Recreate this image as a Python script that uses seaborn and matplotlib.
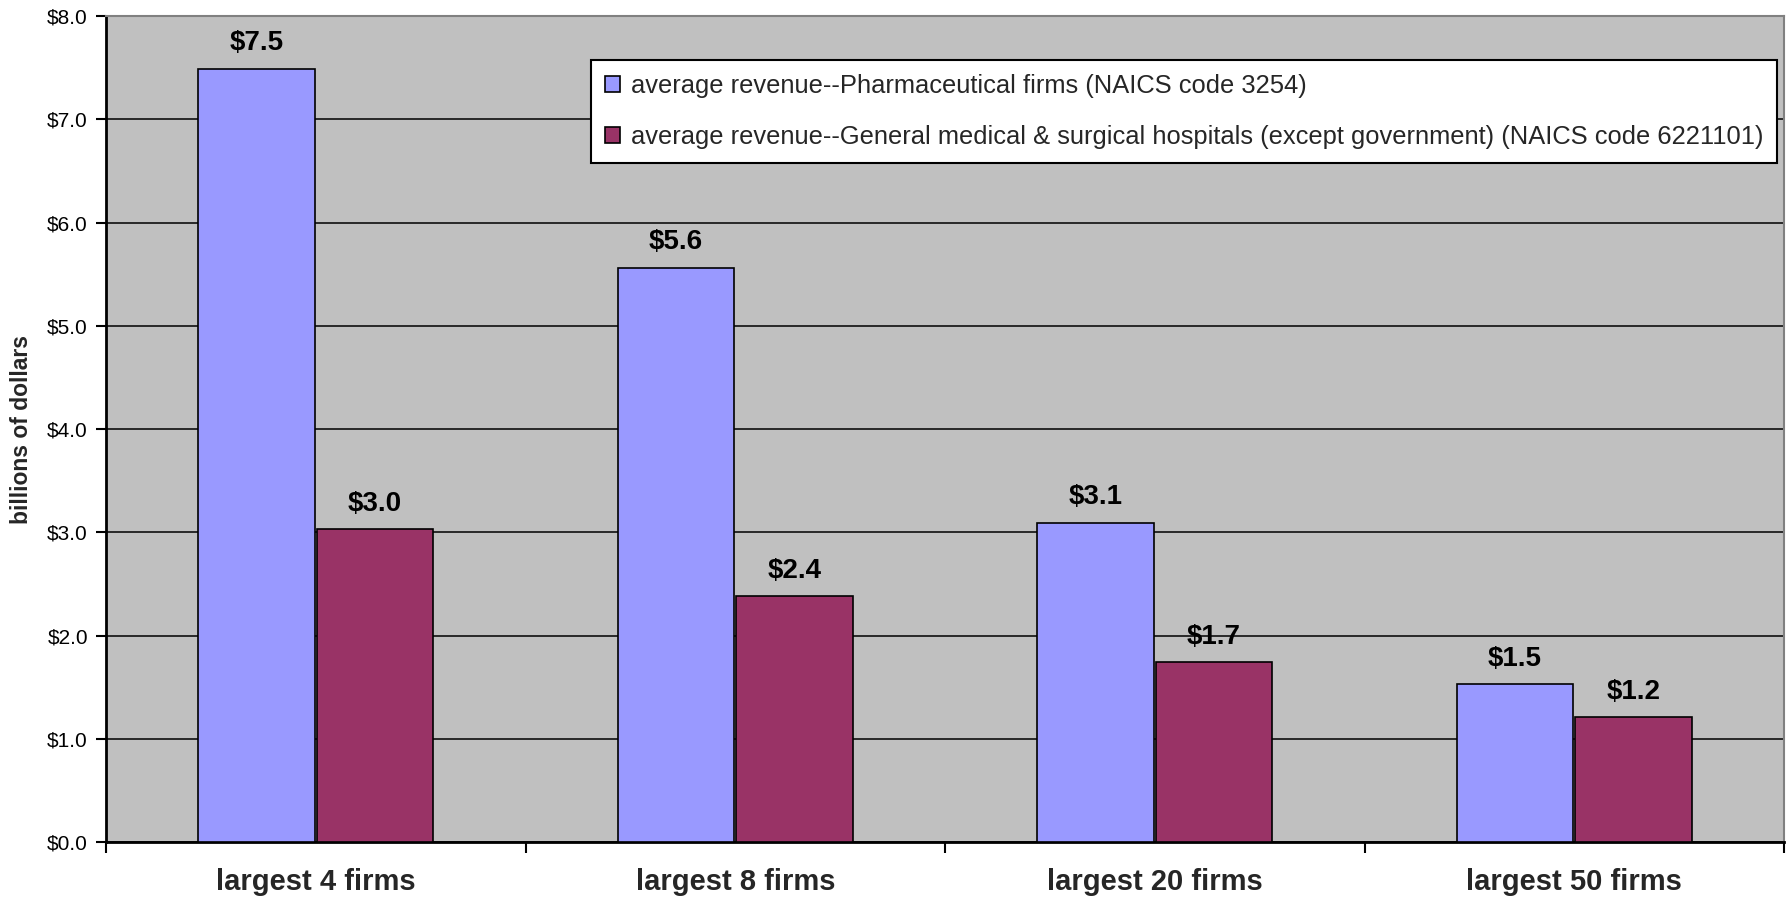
import matplotlib
matplotlib.use("Agg")
import matplotlib.pyplot as plt
import seaborn as sns
import pandas as pd
from matplotlib.ticker import FixedLocator, FuncFormatter

# Average revenue of the largest firms, in billions of dollars
groups = ["largest 4 firms", "largest 8 firms", "largest 20 firms", "largest 50 firms"]
pharma = [7.49, 5.56, 3.09, 1.53]
hospitals = [3.03, 2.38, 1.74, 1.21]
series_names = [
    "average revenue--Pharmaceutical firms (NAICS code 3254)",
    "average revenue--General medical & surgical hospitals (except government) (NAICS code 6221101)",
]
colors = ["#9999FF", "#993366"]
y_ticks = [0, 1, 2, 3, 4, 5, 6, 7, 8]

df = pd.DataFrame({
    "group": groups * 2,
    "value": pharma + hospitals,
    "series": [series_names[0]] * len(groups) + [series_names[1]] * len(groups),
})

sns.set_theme(style="white")
plt.rcParams["font.family"] = ["Liberation Sans", "DejaVu Sans"]

fig = plt.figure(figsize=(17.88, 8.99), dpi=100)
ax = fig.add_axes([0.0593, 0.0634, 0.9385, 0.9188])
ax.set_facecolor("#C0C0C0")

sns.barplot(
    data=df, x="group", y="value", hue="series", order=groups,
    hue_order=series_names, palette=colors, width=0.565, gap=0.02,
    edgecolor="black", linewidth=1.2, ax=ax, saturation=1, zorder=3,
)

for cont in ax.containers:
    ax.bar_label(cont, labels=[f"${v:.1f}" for v in cont.datavalues],
                 padding=9, fontsize=20, fontweight="bold", color="black")

ax.set_ylim(0, 8)
ax.set_xlim(-0.5, len(groups) - 0.5)
ax.yaxis.set_major_locator(FixedLocator(y_ticks))
ax.yaxis.set_major_formatter(FuncFormatter(lambda v, p: f"${v:.1f}"))
ax.grid(axis="y", color="black", linewidth=1.1, zorder=1)
ax.set_axisbelow(True)

ax.tick_params(axis="y", which="major", direction="out", length=7, width=1.5,
               labelsize=15, colors="black", left=True, pad=6)
ax.tick_params(axis="x", which="major", length=0, labelsize=21, pad=19)
ax.xaxis.set_minor_locator(FixedLocator([i - 0.5 for i in range(len(groups) + 1)]))
ax.tick_params(axis="x", which="minor", direction="out", length=8, width=1.5,
               bottom=True, color="black")
for lab in ax.get_xticklabels():
    lab.set_fontweight("bold")

ax.set_xlabel("")
ax.set_ylabel("billions of dollars", fontsize=16.5, fontweight="bold", labelpad=10)

for side in ["left", "bottom"]:
    ax.spines[side].set_color("black")
    ax.spines[side].set_linewidth(2)
for side in ["top", "right"]:
    ax.spines[side].set_color("#808080")
    ax.spines[side].set_linewidth(1.5)

leg = ax.legend(loc="upper left", bbox_to_anchor=(0.289, 0.947), fontsize=18.4,
                frameon=True, fancybox=False, edgecolor="black", facecolor="white",
                framealpha=1, handlelength=0.6, handleheight=0.6,
                handletextpad=0.4, labelspacing=1.05, borderpad=0.55,
                borderaxespad=0)
leg.get_frame().set_linewidth(1.5)
for h in leg.legend_handles:
    h.set_edgecolor("black")
    h.set_linewidth(1.2)

fig.savefig("out.png", dpi=100)
